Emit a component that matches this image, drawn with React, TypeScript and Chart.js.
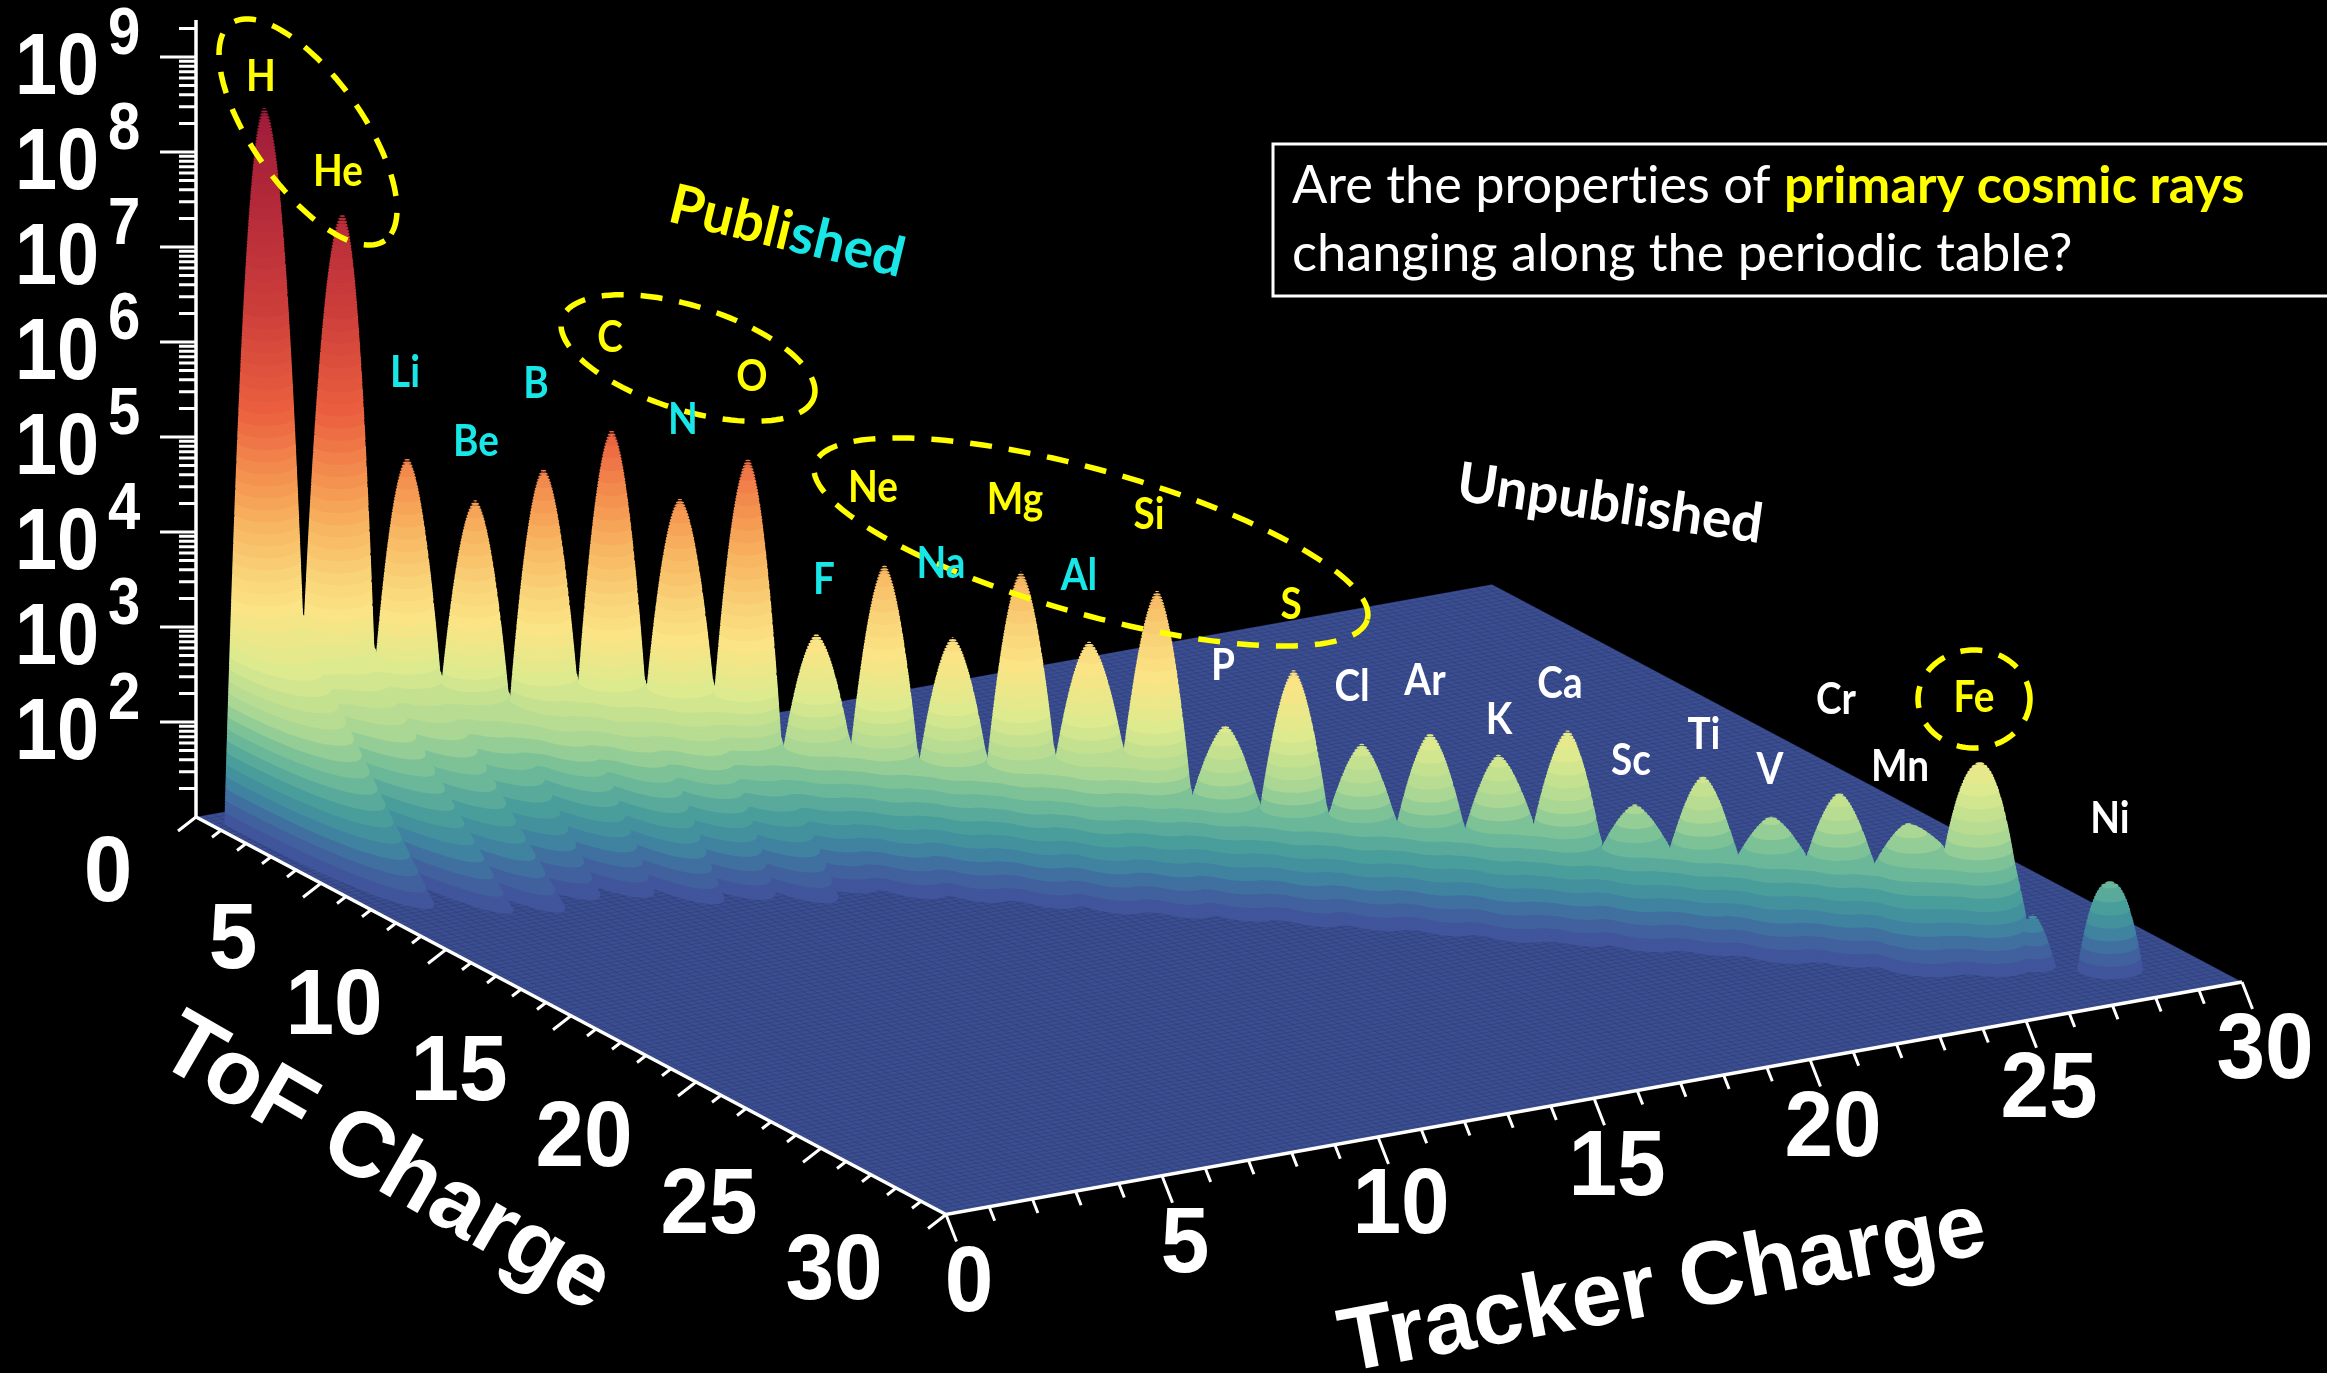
import React, { useEffect, useRef } from "react";
import { Chart, registerables } from "chart.js";

Chart.register(...registerables);

// ---------- data ----------
const elements = ["H","He","Li","Be","B","C","N","O","F","Ne","Na","Mg","Al","Si","P","S","Cl","Ar","K","Ca","Sc","Ti","V","Cr","Mn","Fe","Co","Ni"];
const charges = [1,2,3,4,5,6,7,8,9,10,11,12,13,14,15,16,17,18,19,20,21,22,23,24,25,26,27,28];
// tracker-charge offset of each peak from its nominal charge
const peakShift = [0,0.24,0.15,0.15,0.15,0.15,0.15,0.15,0.15,0.15,0.15,0.15,0.15,0.15,0.15,0.15,0.15,0.15,0.15,0.18,0.15,0.15,0.15,0.15,0.15,0.25,-0.1,0.1];
// log10(counts) at the top of each peak
const peakLog = [8.53,7.45,4.95,4.56,4.95,5.42,4.75,5.23,3.44,4.23,3.52,4.27,3.59,4.19,2.83,3.47,2.75,2.92,2.75,3.06,2.34,2.70,2.33,2.64,2.37,3.06,1.55,1.93];
// log10(counts) at the saddle to the next peak
const valleyLog = [3.13,2.77,2.62,2.47,2.70,2.69,2.76,2.18,2.29,2.19,2.26,2.35,2.48,2.06,2.00,1.98,1.94,1.94,2.05,1.88,1.90,1.90,1.93,1.92,2.12,1.53,1.0];
// how pointed each dome is: half-width grows as (depth below top)^power
const domePower = [0.5,0.5,0.56,0.56,0.56,0.56,0.56,0.56,0.6,0.6,0.6,0.6,0.6,0.6,0.66,0.62,0.66,0.64,0.66,0.62,0.68,0.64,0.68,0.64,0.68,0.48,0.6,0.42];
// how far, in ToF charge units, each tail reaches beyond its peak on the floor
const tailReach = [5.8,6.0,5.4,4.0,3.4,3.5,2.7,2.6,1.3,1.4,1.2,1.3,1.2,1.2,0.9,1.0,0.8,0.8,0.8,0.8,0.6,0.6,0.6,0.6,0.6,0.5,0.1,0.05];
// how many decades above the floor a tail rises
const tailTop = [2.2,1.9,1.7,1.55,1.8,1.8,1.85,1.3,1.4,1.3,1.35,1.45,1.55,1.15,1.1,1.05,1.05,1.0,1.0,1.0,1.0,1.0,1.0,1.0,1.0,1.0,0.5,0.5];
const levelStops = [1.0,1.25,1.45,1.7,2.0,2.3,2.8,3.3,3.7,4.2,4.5,5.4,6.45,7.5,8.6];
const levelColors = ["#3f4f99","#41679f","#3f85a0","#4a9f9b","#72bd98","#a9d693","#dcea8e","#fbe585","#f9d277","#f7b560","#f69f55","#eb5f3f","#cc3e3a","#b52a3a","#9c1a3a"];
const yMajor = [2,3,4,5,6,7,8,9];
const axisTicks = [0,1,2,3,4,5,6,7,8,9,10,11,12,13,14,15,16,17,18,19,20,21,22,23,24,25,26,27,28,29,30];
const labelledTicks = [0,5,10,15,20,25,30];
const logMinor = [2,3,4,5,6,7,8,9];
const cyanLabels = ["Li","Be","B","N","F","Na","Al"];
const yellowLabels = ["H","He","C","O","Ne","Mg","Si","S","Fe"];
const labelAnchors: Record<string, number[]> = {
  H:[261,77],He:[338,172],Li:[405,373],Be:[476,442],B:[536,384],C:[610,338],N:[683,420],O:[752,377],
  F:[824,580],Ne:[873,488],Na:[941,564],Mg:[1015,500],Al:[1079,576],Si:[1149,515],P:[1223,666],S:[1291,605],
  Cl:[1352,687],Ar:[1425,681],K:[1499,720],Ca:[1560,684],Sc:[1631,761],Ti:[1704,735],V:[1770,770],Cr:[1836,700],
  Mn:[1900,767],Fe:[1974,698],Ni:[2110,819],
};
const ellipses = [
  { cx: 308, cy: 132, a: 133, b: 55, deg: 54.7 },
  { cx: 688, cy: 358, a: 132, b: 52, deg: 17.3 },
  { cx: 1091, cy: 542, a: 287, b: 72, deg: 15.7 },
  { cx: 1974, cy: 699, a: 56, b: 49, deg: 0 },
];

// ---------- projection of (tracker, tof, log10 counts) on the page ----------
const W = 2327, H = 1373;
const ORIGIN = [196, 817];
const TV = [43.2, -7.75];
const FV = [25, 13.25];
const DECADE = 95;
const FLOOR = 1;
const project = (t: number, f: number, lg: number) => ({
  x: ORIGIN[0] + t * TV[0] + f * FV[0],
  y: ORIGIN[1] + t * TV[1] + f * FV[1] - (lg - FLOOR) * DECADE,
});
const GAP = { x: NaN, y: NaN };

const hexToRgb = (h: string) => [parseInt(h.slice(1, 3), 16), parseInt(h.slice(3, 5), 16), parseInt(h.slice(5, 7), 16)];
const bandColor = (lg: number) => {
  let i = 0;
  while (i < levelStops.length - 2 && lg > levelStops[i + 1]) i++;
  const u = Math.min(1, Math.max(0, (lg - levelStops[i]) / (levelStops[i + 1] - levelStops[i])));
  const a = hexToRgb(levelColors[i]), b = hexToRgb(levelColors[i + 1]);
  return `rgb(${a.map((v, k) => Math.round(v + (b[k] - v) * u)).join(",")})`;
};

const BAND = 0.125, SUB = 4, SCREEN_UNIT = 50, STEPS = 48;
// half the page distance from peak i to peak i+1: the dome edges meet there, at the saddle
const halfGap = (i: number) => ((charges[i + 1] + peakShift[i + 1] - charges[i] - peakShift[i]) * TV[0] + FV[0]) / 2;
const sideWidth = (i: number, side: number) => {
  if (side < 0) {
    if (i === 0) return { v: FLOOR, w: 40 };
    if (i === 26) return { v: 1.35, w: 14 };
    if (i === 27) return { v: FLOOR, w: 33 };
    return { v: valleyLog[i - 1], w: halfGap(i - 1) };
  }
  if (i === 25) return { v: valleyLog[i], w: 42 };
  if (i === 26) return { v: FLOOR, w: 22 };
  if (i === 27) return { v: FLOOR, w: 33 };
  return { v: valleyLog[i], w: halfGap(i) };
};
const radiusAt = (i: number, side: number, lg: number) => {
  const s = sideWidth(i, side);
  const ratio = (peakLog[i] - lg) / (peakLog[i] - s.v);
  const grow = ratio <= 1 ? Math.pow(ratio, domePower[i]) : Math.pow(ratio, 0.35);
  return (s.w / SCREEN_UNIT) * grow;
};
const tailAt = (i: number, lg: number) => tailReach[i] * Math.max(0, 1 - (lg - FLOOR) / tailTop[i]);
const regionLoop = (i: number, lg: number) => {
  const cT = charges[i] + peakShift[i], cF = charges[i];
  const rL = radiusAt(i, -1, lg), rR = radiusAt(i, 1, lg);
  const ext = tailAt(i, lg);
  const pts: { x: number; y: number }[] = [];
  for (let k = 0; k <= STEPS; k++) {
    const th = (k / STEPS) * Math.PI * 2;
    const c = Math.cos(th), s = Math.sin(th);
    const side = (TV[0] * c + FV[0] * s) / SCREEN_UNIT;
    const rr = rL + (rR - rL) * (0.5 + 0.5 * side);
    const t = cT + rr * c;
    const f = cF + rr * s + (s > 0 ? ext * Math.pow(s, 0.9) : 0);
    pts.push(project(t, f, lg));
  }
  return pts;
};
// the low wall that joins two neighbouring peaks under their saddle
const FRONT_T = -0.5, FRONT_F = 0.865, BRIDGE_FRONT = 0.88, BRIDGE_TAIL = 0.75, BRIDGE_TAIL_MAX = 0.9;
const bridgeLoop = (i: number, lg: number) => {
  const j = i + 1;
  const t1 = charges[i] + peakShift[i], t2 = charges[j] + peakShift[j];
  const r1 = radiusAt(i, 1, lg) * BRIDGE_FRONT, r2 = radiusAt(j, -1, lg) * BRIDGE_FRONT;
  const e1 = Math.min(BRIDGE_TAIL_MAX, tailAt(i, lg) * BRIDGE_TAIL), e2 = Math.min(BRIDGE_TAIL_MAX, tailAt(j, lg) * BRIDGE_TAIL);
  return [
    project(t1, charges[i], lg),
    project(t2, charges[j], lg),
    project(t2 + FRONT_T * r2, charges[j] + FRONT_F * r2 + e2, lg),
    project(t1 + FRONT_T * r1, charges[i] + FRONT_F * r1 + e1, lg),
    project(t1, charges[i], lg),
  ];
};

type DS = any;
const shapeDs = (data: any[], color: string): DS => ({
  data, showLine: true, fill: "shape", backgroundColor: color, borderColor: "rgba(0,0,0,0)", borderWidth: 0,
  pointRadius: 0, spanGaps: false, tension: 0,
});
const lineDs = (data: any[], color: string, width: number, dash?: number[]): DS => ({
  data, showLine: true, fill: false, borderColor: color, borderWidth: width, borderDash: dash || [],
  pointRadius: 0, spanGaps: false, tension: 0, borderCapStyle: "butt",
});

const buildDatasets = (): DS[] => {
  const out: DS[] = [];
  // floor
  out.push(shapeDs([project(0, 0, FLOOR), project(30, 0, FLOOR), project(30, 30, FLOOR), project(0, 30, FLOOR)], "#3b4e90"));
  const hatch: any[] = [];
  for (let k = 0; k <= 150; k++) {
    const v = k * 0.2;
    hatch.push(project(v, 0, FLOOR), project(v, 30, FLOOR), GAP);
    hatch.push(project(0, v, FLOOR), project(30, v, FLOOR), GAP);
  }
  out.push(lineDs(hatch, "rgba(28,38,92,0.22)", 1));
  // terraces, from the lowest to the highest
  const top = Math.max(...peakLog);
  const dl = BAND / SUB;
  for (let n = 0; FLOOR + n * dl < top; n++) {
    const lg = FLOOR + n * dl + dl * 0.5;
    const data: any[] = [];
    peakLog.forEach((P, i) => {
      if (P > lg) { data.push(...regionLoop(i, lg), GAP); }
      if (i < 25 && valleyLog[i] > lg) { data.push(...bridgeLoop(i, lg), GAP); }
    });
    if (data.length) {
      const b = Math.floor((lg - FLOOR) / BAND);
      out.push(shapeDs(data, bandColor(FLOOR + (b + 0.5) * BAND)));
    }
  }
  // axes
  const white = "#ffffff";
  const axis: any[] = [project(0, 0, FLOOR), project(0, 0, 9.39), GAP, project(0, 0, FLOOR), project(0, 30, FLOOR), project(30, 30, FLOOR)];
  out.push(lineDs(axis, white, 3.5));
  const ticks: any[] = [];
  axisTicks.forEach((k) => {
    const big = k % 5 === 0;
    const a = project(0, k, FLOOR);
    ticks.push(a, { x: a.x - (big ? 18 : 9), y: a.y + (big ? 14 : 7) }, GAP);
    const b = project(k, 30, FLOOR);
    ticks.push(b, { x: b.x + (big ? 10.5 : 5.5), y: b.y + (big ? 27 : 14) }, GAP);
  });
  for (let d = 1; d <= 9; d++) {
    if (d > 1) {
      const a = project(0, 0, d);
      ticks.push(a, { x: a.x - 36, y: a.y }, GAP);
    }
    logMinor.forEach((m) => {
      const lg = d + Math.log10(m);
      if (lg <= 9.31) {
        const a = project(0, 0, lg);
        ticks.push(a, { x: a.x - 17, y: a.y }, GAP);
      }
    });
  }
  out.push(lineDs(ticks, white, 3));
  // dashed selections
  ellipses.forEach((e) => {
    const pts: any[] = [];
    const rot = (e.deg * Math.PI) / 180;
    for (let k = 0; k <= 120; k++) {
      const t = (k / 120) * Math.PI * 2;
      const ex = e.a * Math.cos(t), ey = e.b * Math.sin(t);
      pts.push({ x: e.cx + ex * Math.cos(rot) - ey * Math.sin(rot), y: e.cy + ex * Math.sin(rot) + ey * Math.cos(rot) });
    }
    out.push(lineDs(pts, "#ffff00", 5.5, [22, 17]));
  });
  // call-out frame
  const box = [{ x: W + 4, y: 144 }, { x: 1273, y: 144 }, { x: 1273, y: 296 }, { x: W + 4, y: 296 }];
  out.push(lineDs(box, white, 3));
  // drawing order: the first dataset built is the lowest one
  out.forEach((d, i) => { d.order = out.length - i; });
  return out;
};

const textPlugin = {
  id: "pageText",
  afterDraw(chart: any) {
    const { ctx } = chart;
    const put = (s: string, x: number, y: number, font: string, color: string, sx = 1, deg = 0, align: CanvasTextAlign = "center", base: CanvasTextBaseline = "middle") => {
      ctx.save();
      ctx.translate(x, y);
      if (deg) ctx.rotate((deg * Math.PI) / 180);
      ctx.scale(sx, 1);
      ctx.font = font;
      ctx.letterSpacing = "0.01px"; // keeps "ti" from joining into a ligature
      ctx.fillStyle = color;
      ctx.textAlign = align;
      ctx.textBaseline = base;
      ctx.fillText(s, 0, 0);
      ctx.restore();
    };
    const widthOf = (s: string, font: string) => {
      ctx.save();
      ctx.font = font;
      ctx.letterSpacing = "0.01px";
      const w = ctx.measureText(s).width;
      ctx.restore();
      return w;
    };
    const AX = '"Liberation Sans"';
    yMajor.forEach((d) => {
      const p = project(0, 0, d);
      put("10", 15, p.y + 37, `bold 88px ${AX}`, "#fff", 0.86, 0, "left", "alphabetic");
      put(String(d), 108, p.y - 3, `bold 66px ${AX}`, "#fff", 0.88, 0, "left", "alphabetic");
    });
    labelledTicks.forEach((k) => {
      const a = project(0, k, FLOOR);
      put(String(k), a.x + (k < 10 ? -88 : -112), a.y + 59, `bold 92px ${AX}`, "#fff", 0.95);
      const b = project(k, 30, FLOOR);
      put(String(k), b.x + 23, b.y + 71, `bold 92px ${AX}`, "#fff", 0.95);
    });
    put("ToF Charge", 385, 1165, `bold 92px ${AX}`, "#fff", 1, 30);
    put("Tracker Charge", 1663, 1288, `bold 90px ${AX}`, "#fff", 1, -10.5);
    elements.forEach((el) => {
      const at = labelAnchors[el];
      if (!at) return;
      const c = cyanLabels.includes(el) ? "#19e6e6" : yellowLabels.includes(el) ? "#ffff00" : "#ffffff";
      put(el, at[0], at[1], "bold 43px Lato", c, 0.9);
    });
    // "Published" is written in two colours along one rotated baseline
    const pubFont = "bold 55px Lato";
    const p1 = "Publi", p2 = "shed";
    const pw1 = widthOf(p1, pubFont), pw2 = widthOf(p2, pubFont);
    const rad = (13.6 * Math.PI) / 180;
    const px0 = 787 - (Math.cos(rad) * (pw1 + pw2)) / 2, py0 = 232 - (Math.sin(rad) * (pw1 + pw2)) / 2;
    put(p1, px0, py0, pubFont, "#ffff00", 1, 13.6, "left");
    put(p2, px0 + Math.cos(rad) * pw1, py0 + Math.sin(rad) * pw1, pubFont, "#19e6e6", 1, 13.6, "left");
    put("Unpublished", 1610, 504, "bold 55px Lato", "#ffffff", 1, 8);
    const boxFont = "52.3px Lato";
    const lead = "Are the properties of ";
    const lw = widthOf(lead, boxFont);
    put(lead, 1292, 186, boxFont, "#fff", 1, 0, "left");
    put("primary cosmic rays", 1292 + lw, 186, "bold 52.3px Lato", "#ffff00", 1, 0, "left");
    put("changing along the periodic table?", 1292, 254, boxFont, "#fff", 1, 0, "left");
  },
};

export default function App() {
  const ref = useRef<HTMLCanvasElement | null>(null);
  useEffect(() => {
    document.body.style.margin = "0";
    document.body.style.background = "#000";
    const chart = new Chart(ref.current as HTMLCanvasElement, {
      type: "scatter",
      data: { datasets: buildDatasets() },
      options: {
        responsive: false,
        animation: false,
        events: [],
        layout: { padding: 0 },
        plugins: { legend: { display: false }, tooltip: { enabled: false }, title: { display: false } },
        scales: {
          x: { type: "linear", min: 0, max: W, display: false },
          y: { type: "linear", min: 0, max: H, reverse: true, display: false },
        },
      } as any,
      plugins: [textPlugin],
    });
    return () => chart.destroy();
  }, []);
  return (
    <div style={{ position: "absolute", left: 0, top: 0, width: W, height: H, background: "#000", overflow: "hidden" }}>
      <canvas ref={ref} width={W} height={H} style={{ display: "block" }} />
    </div>
  );
}
